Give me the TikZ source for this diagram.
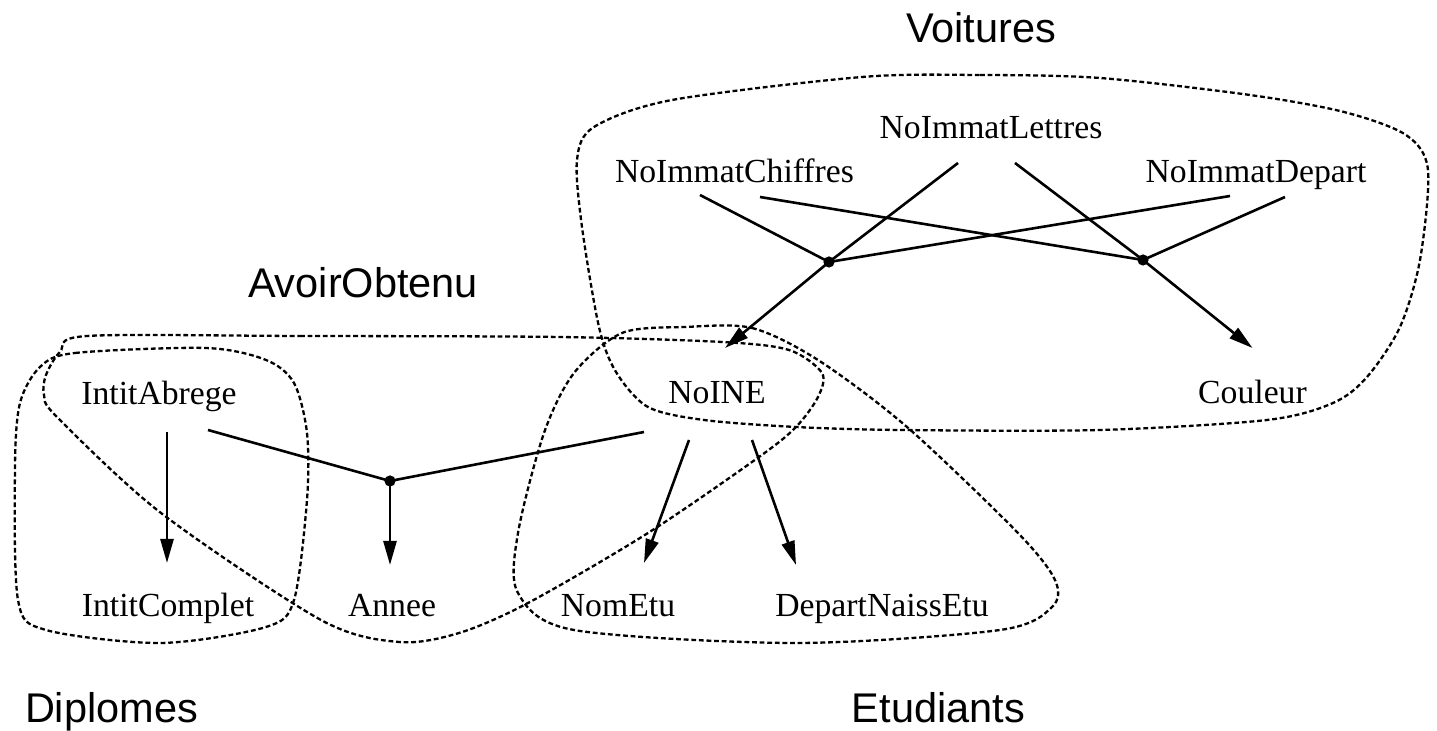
\documentclass[tikz,border=0pt]{standalone}
\usepackage{fontspec}
\setmainfont{Liberation Serif}
\setsansfont{Liberation Sans}
\usetikzlibrary{arrows.meta,calc}

\begin{document}
\begin{tikzpicture}[
    x=0.5pt, y=-0.5pt,
    attr/.style={anchor=base, inner sep=0pt, font=\fontsize{16.85}{20}\selectfont},
    title/.style={anchor=base, inner sep=0pt, font=\sffamily\fontsize{20.75}{24}\selectfont},
    group/.style={line width=1.15pt, dash pattern=on 2.4pt off 1.4pt},
    link/.style={line width=1.3pt},
    dep/.style={link, -{Triangle[length=12pt, width=6.5pt]}},
    junction/.style={fill=black}
]
\useasboundingbox (0,0) rectangle (1437,731);
% attributes
\foreach \n/\x/\y/\t in {
  chiffres/734.5/183/NoImmatChiffres,
  lettres/991/139/NoImmatLettres,
  depart/1256/183/NoImmatDepart,
  abrege/159/405/IntitAbrege,
  noine/717/404/NoINE,
  couleur/1252.5/404/Couleur,
  complet/168/617/IntitComplet,
  annee/392/617/Annee,
  nometu/618/617/NomEtu,
  naiss/882/617/DepartNaissEtu}{
    \node[attr] (\n) at (\x,\y) {\t};
}
% relation names
\node[title] (voitures) at (981,43) {Voitures};
\node[title] (avoir) at (363,298) {AvoirObtenu};
\node[title] (diplomes) at (111.5,723) {Diplomes};
\node[title] (etudiants) at (938.5,723) {Etudiants};
% junctions
\coordinate (jv1) at (829,262);
\coordinate (jv2) at (1143,260);
\coordinate (jd) at (390,481);
\foreach \a/\ox/\oy in {chiffres/-34.5/12, lettres/-33/24, depart/-26/13}
    \draw[link] ($(\a.base)+(\ox,\oy)$) -- (jv1);
\foreach \a/\ox/\oy in {chiffres/25.5/14, lettres/24/24, depart/29/14}
    \draw[link] ($(\a.base)+(\ox,\oy)$) -- (jv2);
\draw[dep] (jv1) -- ($(noine.base)+(8,-56)$);
\draw[dep] (jv2) -- ($(couleur.base)+(0,-56)$);
\draw[link] ($(abrege.base)+(49,25)$) -- (jd);
\draw[link] ($(noine.base)+(-73,28)$) -- (jd);
\draw[dep] (jd) -- ($(annee.base)+(-2,-52)$);
\draw[dep] ($(abrege.base)+(8,27)$) -- ($(complet.base)+(-1,-54)$);
\draw[dep] ($(noine.base)+(-28,36)$) -- ($(nometu.base)+(26,-54)$);
\draw[dep] ($(noine.base)+(35,36)$) -- ($(naiss.base)+(-86,-52)$);
\foreach \j in {jv1,jv2,jd}
    \fill[junction] (\j) circle (2.8pt);
% relation outlines
\draw[group] plot[smooth cycle] coordinates {
  (862,77) (980,75) (1100,78) (1250,95) (1344,112) (1406,135) (1428,170)
  (1420,260) (1400,327) (1367,377) (1333,403) (1267,420) (1100,430)
  (900,430) (796,427) (704,420) (648,407) (616,372) (599,327) (582,227)
  (577,160) (594,127) (672,100)};
\draw[group] plot[smooth cycle] coordinates {
  (685,327) (752,328) (818,360) (907,427) (1018,533) (1055,580) (1052,607)
  (1000,630) (796,643) (574,630) (518,593) (518,533) (544,433) (574,373)
  (622,333)};
\draw[group] plot[smooth cycle] coordinates {
  (87,336) (300,336) (560,337) (722,342) (789,350) (822,373) (818,397)
  (796,427) (759,457) (648,533) (528,603) (459,633) (399,642) (321,620)
  (161,513) (57,417) (44,395) (46,375) (60,352)};
\draw[group] plot[smooth cycle] coordinates {
  (40,367) (75,353) (206,348) (266,360) (294,383) (307,433) (307,500)
  (294,600) (266,627) (161,643) (46,630) (18,600) (15,467) (20,403)};
\end{tikzpicture}
\end{document}
